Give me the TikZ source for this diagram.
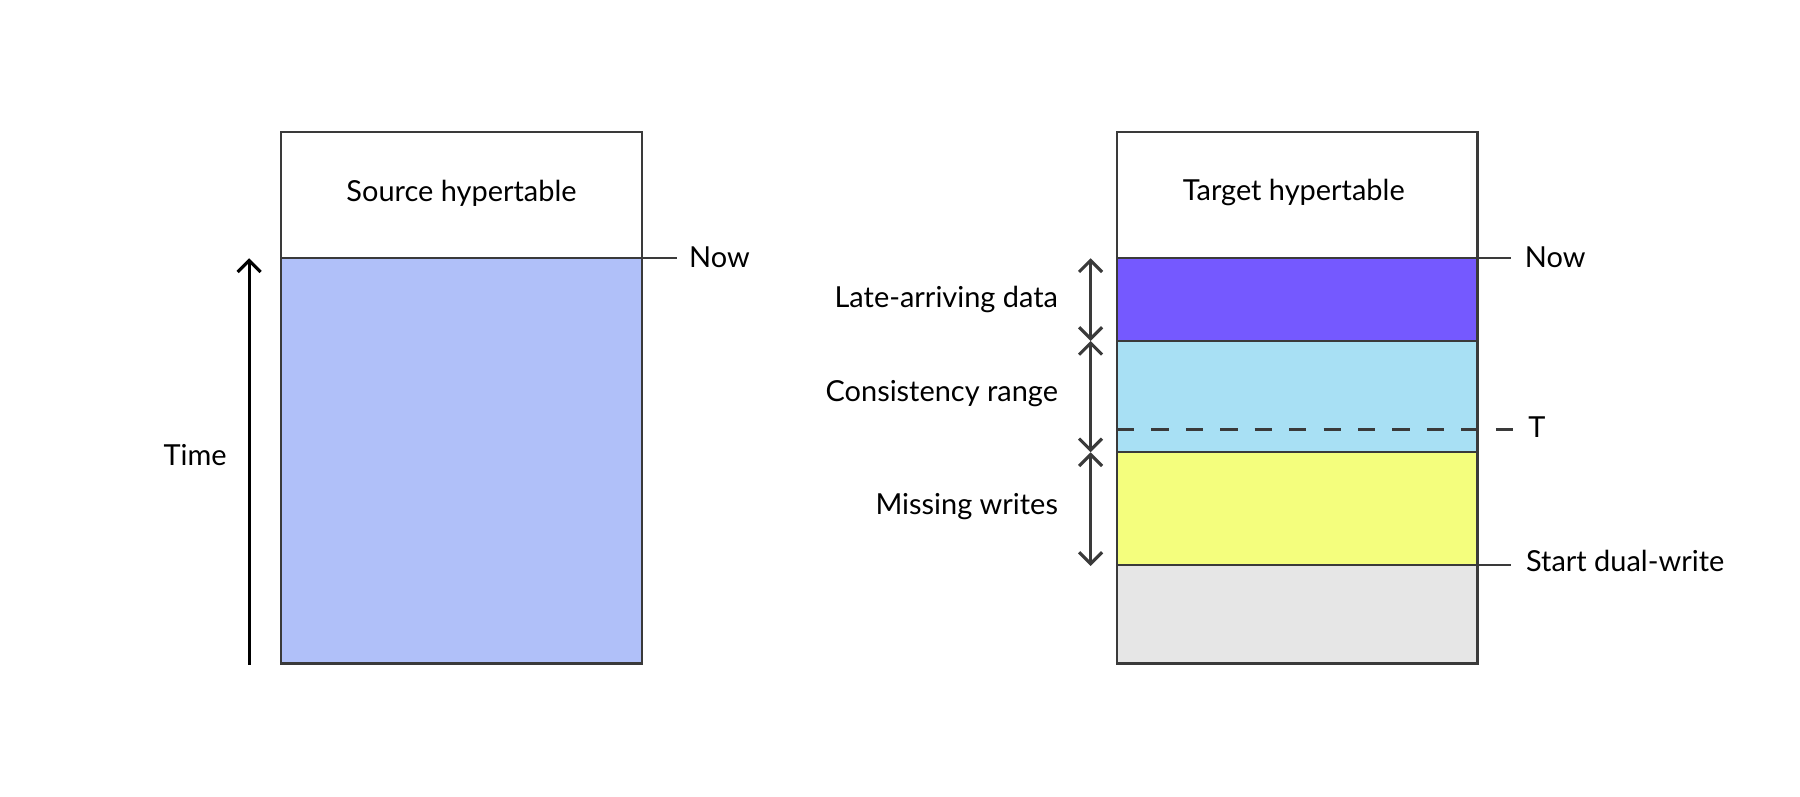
\documentclass[tikz,border=0pt]{standalone}
\usepackage{fontspec}
\setmainfont{Lato}
\usetikzlibrary{arrows.meta}
\definecolor{edgec}{HTML}{3A3A3A}
\definecolor{srcblue}{HTML}{B0C0F9}
\definecolor{latec}{HTML}{7559FF}
\definecolor{consc}{HTML}{A8E0F4}
\definecolor{missc}{HTML}{F4FE7D}
\definecolor{oldc}{HTML}{E6E6E6}
\tikzset{
  box/.style={draw=edgec, line width=1pt},
  tick/.style={draw=edgec, line width=1pt},
  lbl/.style={font=\fontsize{12.6}{15}\selectfont, text=black, inner sep=0pt},
  dbl/.style={draw=edgec, line width=1.35pt, {Straight Barb[length=5pt,width=10pt]}-{Straight Barb[length=5pt,width=10pt]}},
  timearrow/.style={draw=black, line width=1.35pt, -{Straight Barb[length=5pt,width=10pt]}}
}
\begin{document}
\begin{tikzpicture}[x=0.5pt,y=-0.5pt]
\useasboundingbox (0,0) rectangle (1568,694);
% ---- Source hypertable
\coordinate (sTL) at (245,115);
\coordinate (sBR) at (559,578);
\coordinate (sNowL) at (245,225);
\coordinate (sNowR) at (590,225);
\fill[srcblue] (245,225) rectangle (559,578);
\draw[box] (sTL) rectangle (sBR);
\draw[tick] (sNowL) -- (sNowR);
\node[lbl, anchor=west] (snow) at (600,224) {Now};
\node[lbl] (stitle) at (402,168) {Source hypertable};
\coordinate (tb) at (217,579);
\coordinate (tt) at (217,225);
\draw[timearrow] (tb) -- (tt);
\node[lbl] (time) at (170,396) {Time};
% ---- Target hypertable
\fill[latec] (973,225) rectangle (1287,297);
\fill[consc] (973,297) rectangle (1287,394);
\fill[missc] (973,394) rectangle (1287,492);
\fill[oldc] (973,492) rectangle (1287,578);
\coordinate (tTL) at (973,115);
\coordinate (tBR) at (1287,578);
\draw[tick] (973,297) -- (1287,297);
\draw[tick] (973,394) -- (1287,394);
\coordinate (nowL) at (973,225);
\coordinate (nowR) at (1316,225);
\coordinate (startL) at (973,492);
\coordinate (startR) at (1316,492);
\coordinate (tL) at (973,374);
\coordinate (tR) at (1321,374);
\draw[tick] (nowL) -- (nowR);
\draw[tick] (startL) -- (startR);
\draw[draw=edgec, line width=1.2pt, dash pattern=on 7.5pt off 7.5pt] (tL) -- (tR);
\draw[box] (tTL) rectangle (tBR);
\node[lbl] (ttitle) at (1127,168) {Target hypertable};
\node[lbl, anchor=west] (tnow) at (1328,224) {Now};
\node[lbl, anchor=west] (tT) at (1331,372) {T};
\node[lbl, anchor=west] (tstart) at (1329,489) {Start dual-write};
% double arrows
\coordinate (a0) at (950,225);
\coordinate (a1) at (950,297);
\coordinate (a2) at (950,394);
\coordinate (a3) at (950,493);
\draw[dbl] (a0) -- (a1);
\draw[dbl] (a1) -- (a2);
\draw[dbl] (a2) -- (a3);
\node[lbl, anchor=east] (late) at (922,261) {Late-arriving data};
\node[lbl, anchor=east] (cons) at (922,343) {Consistency range};
\node[lbl, anchor=east] (miss) at (922,441) {Missing writes};
\end{tikzpicture}
\end{document}
